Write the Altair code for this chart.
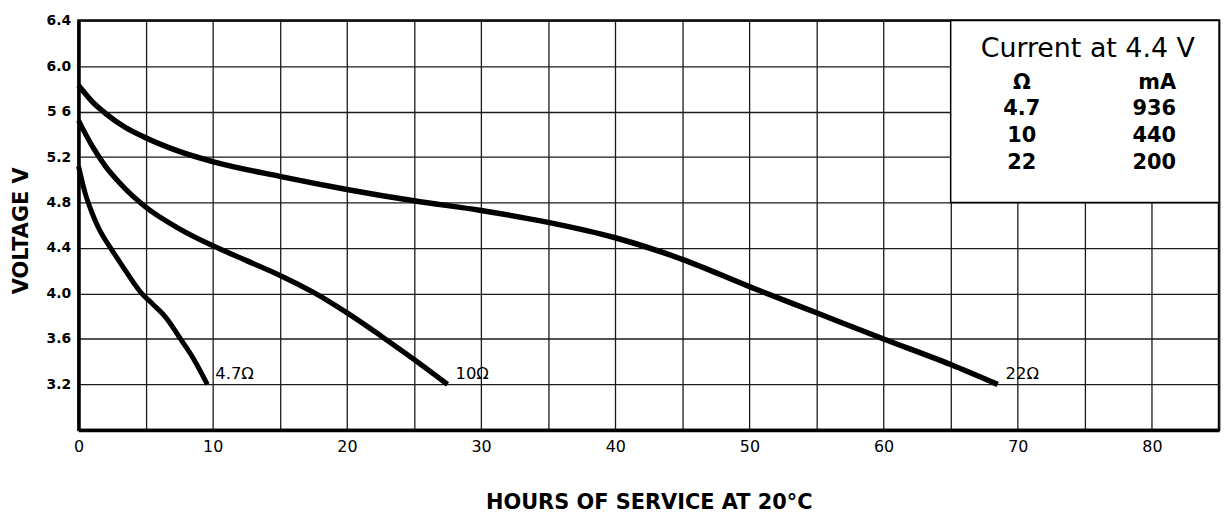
import altair as alt
import pandas as pd

# ---- data ----
hours_47 = [0, 0.5, 1.0, 1.5, 2.0, 2.5, 3.5, 4.7, 5.5, 6.5, 7.6, 8.6, 9.6]
volts_47 = [5.12, 4.88, 4.71, 4.575, 4.47, 4.38, 4.20, 4.00, 3.91, 3.79, 3.60, 3.42, 3.20]

hours_10 = [0, 1, 2, 3, 5, 7.5, 10, 12.5, 15, 17.5, 20, 22.5, 25, 27.5]
volts_10 = [5.52, 5.30, 5.12, 4.98, 4.76, 4.57, 4.42, 4.29, 4.16, 4.01, 3.83, 3.63, 3.42, 3.20]

hours_22 = [0, 1, 2, 3.5, 5, 7.5, 10, 15, 20, 25, 30, 35, 40, 45, 50, 55, 60, 65, 68.5]
volts_22 = [5.83, 5.69, 5.585, 5.46, 5.37, 5.25, 5.16, 5.03, 4.915, 4.815, 4.73, 4.625,
            4.49, 4.30, 4.06, 3.83, 3.60, 3.375, 3.20]

series_names = ["4.7Ω", "10Ω", "22Ω"]

table_ohm = ["Ω", "4.7", "10", "22"]
table_ma = ["mA", "936", "440", "200"]
table_title = "Current at 4.4 V"

x_ticks = list(range(0, 90, 5))
y_ticks = [3.2, 3.6, 4.0, 4.4, 4.8, 5.2, 5.6, 6.0, 6.4]

# ---- build tables ----
rows = []
for name, hs, vs in zip(series_names, [hours_47, hours_10, hours_22],
                        [volts_47, volts_10, volts_22]):
    for h, v in zip(hs, vs):
        rows.append({"series": name, "hours": h, "volts": v})
df = pd.DataFrame(rows)

ends = pd.DataFrame([
    {"series": n, "hours": hs[-1], "volts": vs[-1]}
    for n, hs, vs in zip(series_names, [hours_47, hours_10, hours_22],
                         [volts_47, volts_10, volts_22])
])

row_y = [5.85, 5.62, 5.385, 5.15]
tbl = pd.DataFrame({"ohm": table_ohm, "ma": table_ma, "hours": [70.3] * 4,
                    "hours2": [81.8] * 4, "volts": row_y})

xscale = alt.Scale(domain=[0, 85], nice=False, zero=False)
yscale = alt.Scale(domain=[2.8, 6.4], nice=False, zero=False)

FONT2 = "DejaVu Sans"

x_axis = alt.Axis(
    values=x_ticks,
    labelExpr="datum.value % 10 == 0 ? datum.label : ''",
    labelFlush=False,
    title="HOURS OF SERVICE AT 20°C",
    titleFont=FONT2, titleFontSize=21, titleFontWeight="bold", titleColor="black",
    titleX=574, titleY=73, titleBaseline="middle",
    labelFont=FONT2, labelFontSize=16, labelColor="black", labelPadding=9,
    ticks=False, grid=True, gridColor="#1a1a1a", gridWidth=1.3,
    domain=True, domainColor="black", domainWidth=3.5,
)
y_axis = alt.Axis(
    values=y_ticks,
    labelExpr="datum.value == 5.6 ? '5 6' : format(datum.value, '.1f')",
    labelFlush=False,
    title="VOLTAGE V",
    titleFont=FONT2, titleFontSize=21, titleFontWeight="bold", titleColor="black",
    titleX=-57, titleY=211, titleBaseline="middle", titleAngle=-90,
    labelFont=FONT2, labelFontSize=14, labelFontWeight="bold", labelColor="black",
    labelPadding=8,
    ticks=False, grid=True, gridColor="#1a1a1a", gridWidth=1.3,
    domain=True, domainColor="black", domainWidth=3.5,
)

X = lambda f: alt.X(f, type="quantitative", scale=xscale, axis=x_axis)
Y = lambda f: alt.Y(f, type="quantitative", scale=yscale, axis=y_axis)

lines = alt.Chart(df).mark_line(color="black", interpolate="monotone",
                                strokeCap="butt", strokeJoin="round").encode(
    x=X("hours"),
    y=Y("volts"),
    detail="series:N",
    order=alt.Order("hours:Q"),
    size=alt.Size("series:N", scale=alt.Scale(domain=series_names, range=[5, 5.5, 6.5]),
                  legend=None),
)

labels = alt.Chart(ends).mark_text(align="left", baseline="middle", dx=8, dy=-10,
                                   font=FONT2, fontSize=16.5, color="black").encode(
    x=X("hours"),
    y=Y("volts"),
    text="series:N",
)

box_df = pd.DataFrame({"hours": [65], "hours2": [85], "volts": [6.4], "volts2": [4.8]})
box = alt.Chart(box_df).mark_rect(
    fill="white", stroke="black", strokeWidth=1.5).encode(
    x=X("hours"), x2="hours2", y=Y("volts"), y2="volts2",
)

title_df = pd.DataFrame({"t": [table_title], "hours": [83.2], "volts": [6.146]})
title_txt = alt.Chart(title_df).mark_text(
    align="right", baseline="middle", font=FONT2, fontSize=27, color="black").encode(
    x=X("hours"), y=Y("volts"), text="t:N",
)

col1 = alt.Chart(tbl).mark_text(align="center", baseline="middle", font=FONT2,
                                fontSize=21, fontWeight="bold", color="black").encode(
    x=X("hours"), y=Y("volts"), text="ohm:N",
)
col2 = alt.Chart(tbl).mark_text(align="right", baseline="middle", font=FONT2,
                                fontSize=21, fontWeight="bold", color="black").encode(
    x=X("hours2"), y=Y("volts"), text="ma:N",
)

chart = alt.layer(lines, labels, box, title_txt, col1, col2).properties(
    width=1148, height=412,
    autosize=alt.AutoSizeParams(type="none"),
    padding={"left": 71, "top": 11, "right": 4, "bottom": 88},
    background="white",
).configure_view(stroke="black", strokeWidth=2.5)

chart.save("out.html", embed_options={"renderer": "svg", "actions": False})
